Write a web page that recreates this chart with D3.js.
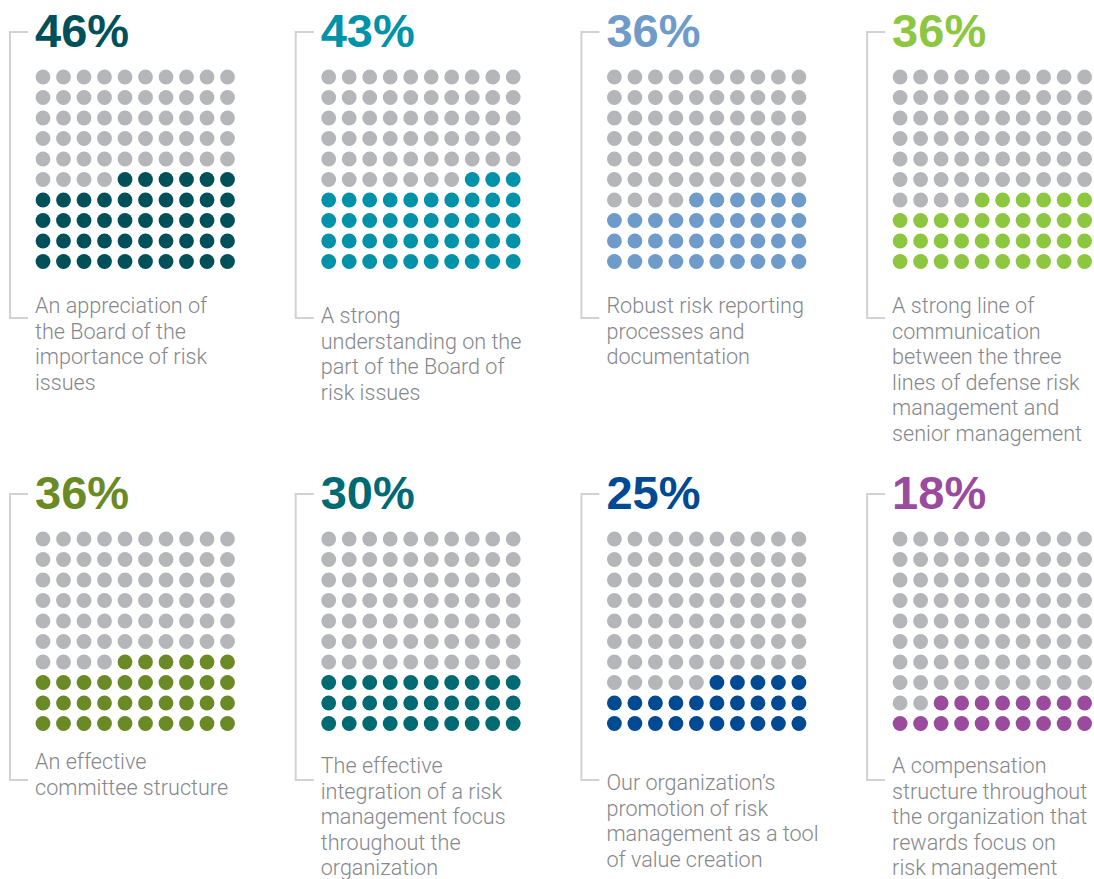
<!DOCTYPE html>
<html>
<head>
<meta charset="utf-8">
<script src="https://cdn.jsdelivr.net/npm/d3@7/dist/d3.min.js"></script>
<style>
  html, body { margin: 0; padding: 0; background: #ffffff; }
  svg { display: block; }
  .pct { font-family: "Liberation Sans", Arial, sans-serif; font-weight: 700; font-size: 47px; }
  .caption { font-family: Roboto, "Liberation Sans", sans-serif; font-weight: 300; font-size: 21.6px; fill: #85878c; }
</style>
</head>
<body>
<svg id="chart" width="1094" height="879"></svg>
<script>
// Survey answers: share of respondents (out of 100) naming each factor
const categories = [
  "An appreciation of\nthe Board of the\nimportance of risk\nissues",
  "A strong\nunderstanding on the\npart of the Board of\nrisk issues",
  "Robust risk reporting\nprocesses and\ndocumentation",
  "A strong line of\ncommunication\nbetween the three\nlines of defense risk\nmanagement and\nsenior management",
  "An effective\ncommittee structure",
  "The effective\nintegration of a risk\nmanagement focus\nthroughout the\norganization",
  "Our organization\u2019s\npromotion of risk\nmanagement as a tool\nof value creation",
  "A compensation\nstructure throughout\nthe organization that\nrewards focus on\nrisk management"
];
const values = [46, 43, 36, 36, 36, 30, 25, 18];
const percentLabels = values.map(v => v + "%");
const seriesColors = ["#00505a", "#0092a9", "#6e9bc9", "#8dc63f", "#6a8a26", "#006a72", "#004a93", "#9a4b9d"];

// Layout
const COLS = 4;
const emptyColor = "#b5b6ba";
const bracketColor = "#d2d2d2";
const rowOffset = 462;                 // vertical distance between the two rows of panels
const captionBaselines = [313, 323, 313, 313, 307, 311, 328, 311]; // first caption line, relative to panel top
const lineStep = 25.5;

const svg = d3.select("#chart");

const panelX = d3.scaleBand().domain(d3.range(COLS)).range([10, 10 + COLS * 285.7]).paddingInner(0);
const panelY = d3.scaleOrdinal().domain([0, 1]).range([0, rowOffset]);

// 10 x 10 grid of dots inside each panel
const dotX = d3.scaleLinear().domain([0, 9]).range([33, 33 + 9 * 20.5]);
const dotY = d3.scaleLinear().domain([0, 9]).range([77, 77 + 9 * 20.5]);
const dotR = 7.4;

const panels = svg.selectAll("g.panel")
  .data(values.map((v, i) => ({
    i, value: v, label: percentLabels[i], caption: categories[i], color: seriesColors[i]
  })))
  .join("g")
  .attr("class", "panel")
  .attr("transform", d => `translate(${panelX(d.i % COLS)},${panelY(Math.floor(d.i / COLS))})`);

// bracket on the left of each panel
panels.append("path")
  .attr("d", "M18,32 H0 V318 H18")
  .attr("fill", "none")
  .attr("stroke", bracketColor)
  .attr("stroke-width", 2);

// big percentage
panels.append("text")
  .attr("class", "pct")
  .attr("x", 25)
  .attr("y", 46.5)
  .attr("fill", d => d.color)
  .text(d => d.label);

// dots: filled from the bottom-right corner upward
panels.each(function (d) {
  const cells = d3.range(100).map(k => ({
    row: Math.floor(k / 10),
    col: k % 10,
    on: (99 - k) < d.value
  }));
  d3.select(this).append("g")
    .selectAll("circle")
    .data(cells)
    .join("circle")
    .attr("cx", c => dotX(c.col))
    .attr("cy", c => dotY(c.row))
    .attr("r", dotR)
    .attr("fill", c => c.on ? d.color : emptyColor);
});

// caption
panels.append("text")
  .attr("class", "caption")
  .attr("x", 25)
  .attr("y", d => captionBaselines[d.i])
  .selectAll("tspan")
  .data(d => d.caption.split("\n"))
  .join("tspan")
  .attr("x", 25)
  .attr("dy", (l, j) => j === 0 ? 0 : lineStep)
  .text(l => l);
</script>
</body>
</html>
